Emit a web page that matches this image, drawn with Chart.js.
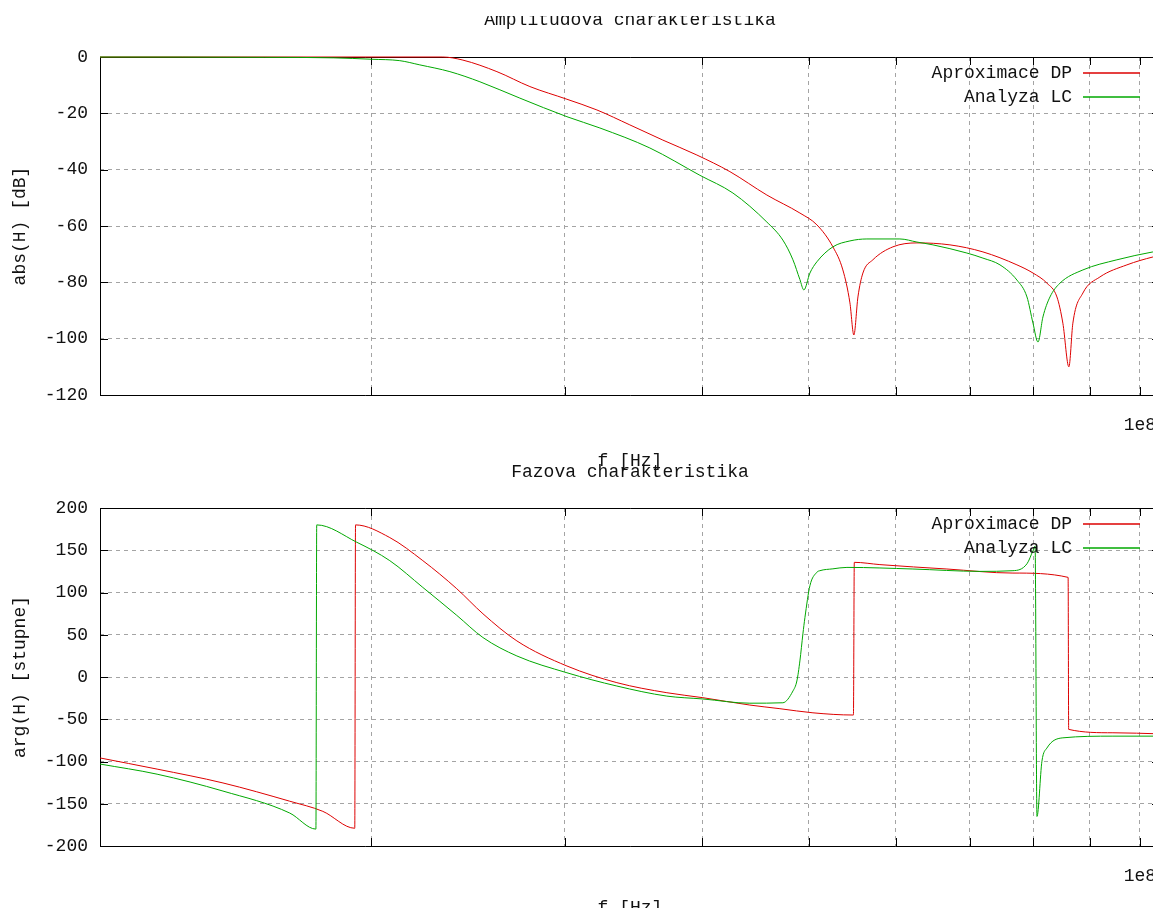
<!DOCTYPE html>
<html>
<head>
<meta charset="utf-8">
<title>Amplitudova a fazova charakteristika</title>
<script src="https://cdn.jsdelivr.net/npm/chart.js@4.4.0/dist/chart.umd.min.js"></script>
<style>
  html, body { margin: 0; padding: 0; background: #fff; overflow: hidden; width: 1153px; height: 908px; }
  canvas { position: absolute; left: 0; }
  #ampChart { top: 0; }
  #phaseChart { top: 451px; }
</style>
</head>
<body>
<canvas id="ampChart" width="1260" height="480"></canvas>
<canvas id="phaseChart" width="1260" height="480"></canvas>
<script>
// --- Data ---

// x axis: frequency [Hz], log scale
const freqMin = 11.34e6;
const freqMax = 104.3e6;
const xTicks = [2e7, 3e7, 4e7, 5e7, 6e7, 7e7, 8e7, 9e7, 1e8];

// Amplitude [dB]
const ampFreqDP = [11.34e6, 23.24e6, 24.24e6, 26.03e6, 27.89e6, 30.14e6, 32.09e6, 34.38e6, 36.84e6, 39.56e6,
  42.39e6, 45.80e6, 49.08e6, 50.86e6, 52.59e6, 53.70e6, 54.50e6, 54.95e6, 55.42e6, 56.00e6,
  57.18e6, 59.63e6, 62.71e6, 67.19e6, 72.00e6, 77.31e6, 79.95e6, 82.32e6, 84.06e6, 85.11e6,
  86.19e6, 86.91e6, 88.75e6, 91.97e6, 97.32e6, 102.76e6, 104.3e6];
const ampDP = [0, 0, -1.1, -5.2, -10.5, -15, -18.8, -24.1, -29.5, -34.8,
  -40.7, -49, -55.4, -59.6, -67.4, -75.6, -87.3, -98.7, -85.2, -76.7,
  -72, -67.4, -66, -66.7, -69.2, -73.8, -76.7, -80.3, -85.2, -94.5,
  -110, -94.5, -83.8, -78.1, -73.8, -71, -70.5];

const ampFreqLC = [11.34e6, 16.0e6, 18.5e6, 20.03e6, 21.24e6, 22.15e6, 23.59e6, 25.12e6, 27.31e6, 30.14e6,
  32.29e6, 35.85e6, 39.81e6, 42.66e6, 45.80e6, 47.36e6, 48.37e6, 49.08e6, 49.49e6, 50.12e6,
  50.86e6, 52.59e6, 54.50e6, 56.47e6, 60.51e6, 62.71e6, 64.84e6, 69.62e6, 72.00e6, 74.61e6,
  77.31e6, 78.95e6, 79.95e6, 80.79e6, 81.63e6, 82.84e6, 84.59e6, 88.75e6, 95.30e6, 102.76e6, 104.3e6];
const ampLC = [0, -0.1, -0.3, -0.8, -1.3, -2.8, -5.2, -8.8, -14.6, -21.2,
  -25.2, -32.3, -42, -48.3, -58.6, -65, -72, -79, -82.7, -76.7,
  -72.7, -67.4, -65.3, -64.6, -64.6, -65.7, -66.7, -69.6, -71.4, -73.8,
  -79.2, -85.2, -94.5, -101.2, -92.3, -85.2, -80.3, -75.6, -72, -69.2, -68.8];

// Phase [degrees]
const phaseFreqDP = [11.34e6, 12.78e6, 14.67e6, 16.87e6, 18.08e6, 19.33e6, 19.36e6, 20.80e6, 22.29e6, 23.93e6,
  25.28e6, 27.14e6, 30.14e6, 33.46e6, 37.15e6, 40.06e6, 44.20e6, 47.07e6, 50.44e6, 54.90e6,
  55.00e6, 58.03e6, 66.77e6, 76.67e6, 86.05e6, 86.15e6, 94.51e6, 104.3e6];
const phaseDP = [-95.8, -109, -125.4, -147, -159, -179, 180, 165, 137.7, 104.5,
  74.8, 42.7, 13, -6.7, -18.6, -24.5, -33.2, -37.5, -42.4, -45,
  135.7, 133, 127.8, 123, 117.9, -62, -66, -67.3];

const phaseFreqLC = [11.34e6, 12.78e6, 14.67e6, 16.87e6, 17.82e6, 17.85e6, 19.41e6, 20.80e6, 22.29e6, 23.93e6,
  25.28e6, 27.14e6, 30.14e6, 33.46e6, 37.15e6, 40.06e6, 44.20e6, 47.36e6, 48.37e6, 48.77e6,
  49.08e6, 49.39e6, 49.60e6, 50.12e6, 50.86e6, 51.18e6, 52.59e6, 54.16e6, 62.18e6, 71.55e6,
  76.67e6, 78.95e6, 79.95e6, 80.30e6, 80.62e6, 81.46e6, 82.32e6, 85.11e6, 94.51e6, 104.3e6];
const phaseLC = [-103, -115, -135, -161, -180, 180, 159.5, 137.7, 106, 73,
  46.7, 24.9, 5, -10.7, -22.6, -26, -31, -30.5, -16.6, -4.7,
  19, 51, 70.4, 108, 124, 125.8, 128, 129.7, 127.8, 125,
  125.8, 134, 149.6, 155, -165, -99.7, -84, -72, -70, -70];

// --- Colors & helpers ---
const dpColor = "#dd0000";
const lcColor = "#00a800";
const gridColor = "#a4a4a4";
const textColor = "#111";
const monoFont = "'Liberation Mono', 'DejaVu Sans Mono', monospace";
const ticLen = 8;

Chart.defaults.font.family = monoFont;
Chart.defaults.font.size = 18;
Chart.defaults.color = textColor;

function toPoints(xs, ys) {
  return xs.map((x, i) => ({ x: x, y: ys[i] }));
}

/**
 * gnuplot-like frame: box, inward tics, title and legend with sample on the right
 */
const gnuplotFrame = {
  id: "gnuplotFrame",
  beforeDatasetsDraw(chart) {
    const { ctx, chartArea: { left, top, right, bottom }, scales } = chart;
    ctx.save();
    ctx.strokeStyle = "#000";
    ctx.lineWidth = 1;
    ctx.beginPath();
    ctx.rect(left + 0.5, top + 0.5, right - left, bottom - top);
    scales.x.ticks.forEach((t) => {
      const px = Math.round(scales.x.getPixelForValue(t.value)) + 0.5;
      ctx.moveTo(px, bottom);
      ctx.lineTo(px, bottom - ticLen);
      ctx.moveTo(px, top);
      ctx.lineTo(px, top + ticLen);
    });
    scales.y.ticks.forEach((t) => {
      const py = Math.round(scales.y.getPixelForValue(t.value)) + 0.5;
      ctx.moveTo(left, py);
      ctx.lineTo(left + ticLen, py);
      ctx.moveTo(right, py);
      ctx.lineTo(right - ticLen, py);
    });
    ctx.stroke();
    ctx.restore();
  },
  afterDraw(chart, args, opts) {
    const { ctx, chartArea: { left, top, right } } = chart;
    ctx.save();
    ctx.font = "18px " + monoFont;
    ctx.fillStyle = textColor;

    // Legend: text right aligned, line sample on its right
    ctx.textAlign = "right";
    ctx.textBaseline = "middle";
    chart.data.datasets.forEach((ds, i) => {
      const y = top + 16 + i * 24;
      ctx.fillText(ds.label, right - 88, y);
      ctx.strokeStyle = ds.borderColor;
      ctx.lineWidth = 1.5;
      ctx.beginPath();
      ctx.moveTo(right - 77, y);
      ctx.lineTo(right - 20, y);
      ctx.stroke();
    });

    // Title (the top one is cut off like in the original picture)
    if (opts.clipTop != null) {
      ctx.beginPath();
      ctx.rect(0, opts.clipTop, chart.width, chart.height);
      ctx.clip();
    }
    ctx.textAlign = "center";
    ctx.textBaseline = "alphabetic";
    ctx.fillText(opts.title, (left + right) / 2, top + opts.titleOffset);
    ctx.restore();
  },
};

/**
 * Builds one of the two gnuplot style panels
 */
function makePanel(canvasId, cfg) {
  const ctx = document.getElementById(canvasId).getContext("2d");
  const lineStyle = {
    borderWidth: 1,
    pointRadius: 0,
    cubicInterpolationMode: "monotone",
    fill: false,
    clip: 2,
  };
  return new Chart(ctx, {
    type: "line",
    data: {
      datasets: [
        {
          ...lineStyle,
          label: "Aproximace DP",
          data: toPoints(cfg.freqDP, cfg.valDP),
          borderColor: dpColor,
          order: 1,
        },
        {
          ...lineStyle,
          label: "Analyza LC",
          data: toPoints(cfg.freqLC, cfg.valLC),
          borderColor: lcColor,
          order: 0,
        },
      ],
    },
    options: {
      responsive: false,
      animation: false,
      layout: { padding: { top: 57, right: 100, left: 0, bottom: 0 } },
      plugins: {
        legend: { display: false },
        tooltip: { enabled: false },
        gnuplotFrame: { title: cfg.title, titleOffset: cfg.titleOffset, clipTop: cfg.clipTop },
      },
      scales: {
        x: {
          type: "logarithmic",
          min: freqMin,
          max: freqMax,
          afterBuildTicks: (scale) => {
            scale.ticks = xTicks.map((v) => ({ value: v }));
          },
          afterFit: (scale) => {
            scale.height = 85;
          },
          grid: { color: gridColor, drawTicks: false },
          border: { display: false, dash: [4, 4] },
          ticks: {
            autoSkip: false,
            maxRotation: 0,
            padding: 19,
            callback: (v) => (v === 1e8 ? "1e8" : ""),
          },
          title: { display: true, text: "f [Hz]", padding: { top: 0, bottom: cfg.xTitlePad } },
        },
        y: {
          min: cfg.yMin,
          max: cfg.yMax,
          afterFit: (scale) => {
            scale.width = 100;
          },
          grid: { color: gridColor, drawTicks: false },
          border: { display: false, dash: [4, 4] },
          ticks: {
            stepSize: cfg.yStep,
            padding: 12,
            callback: (v) => String(v),
          },
          title: { display: true, text: cfg.yTitle, padding: { top: 9, bottom: 0 } },
        },
      },
    },
    plugins: [gnuplotFrame],
  });
}

document.addEventListener("DOMContentLoaded", () => {
  makePanel("ampChart", {
    freqDP: ampFreqDP,
    valDP: ampDP,
    freqLC: ampFreqLC,
    valLC: ampLC,
    yMin: -120,
    yMax: 0,
    yStep: 20,
    yTitle: "abs(H) [dB]",
    title: "Amplitudova charakteristika",
    titleOffset: -32,
    clipTop: 16,
    xTitlePad: 8,
  });

  makePanel("phaseChart", {
    freqDP: phaseFreqDP,
    valDP: phaseDP,
    freqLC: phaseFreqLC,
    valLC: phaseLC,
    yMin: -200,
    yMax: 200,
    yStep: 50,
    yTitle: "arg(H) [stupne]",
    title: "Fazova charakteristika",
    titleOffset: -31,
    clipTop: null,
    xTitlePad: 12,
  });
});
</script>
</body>
</html>
